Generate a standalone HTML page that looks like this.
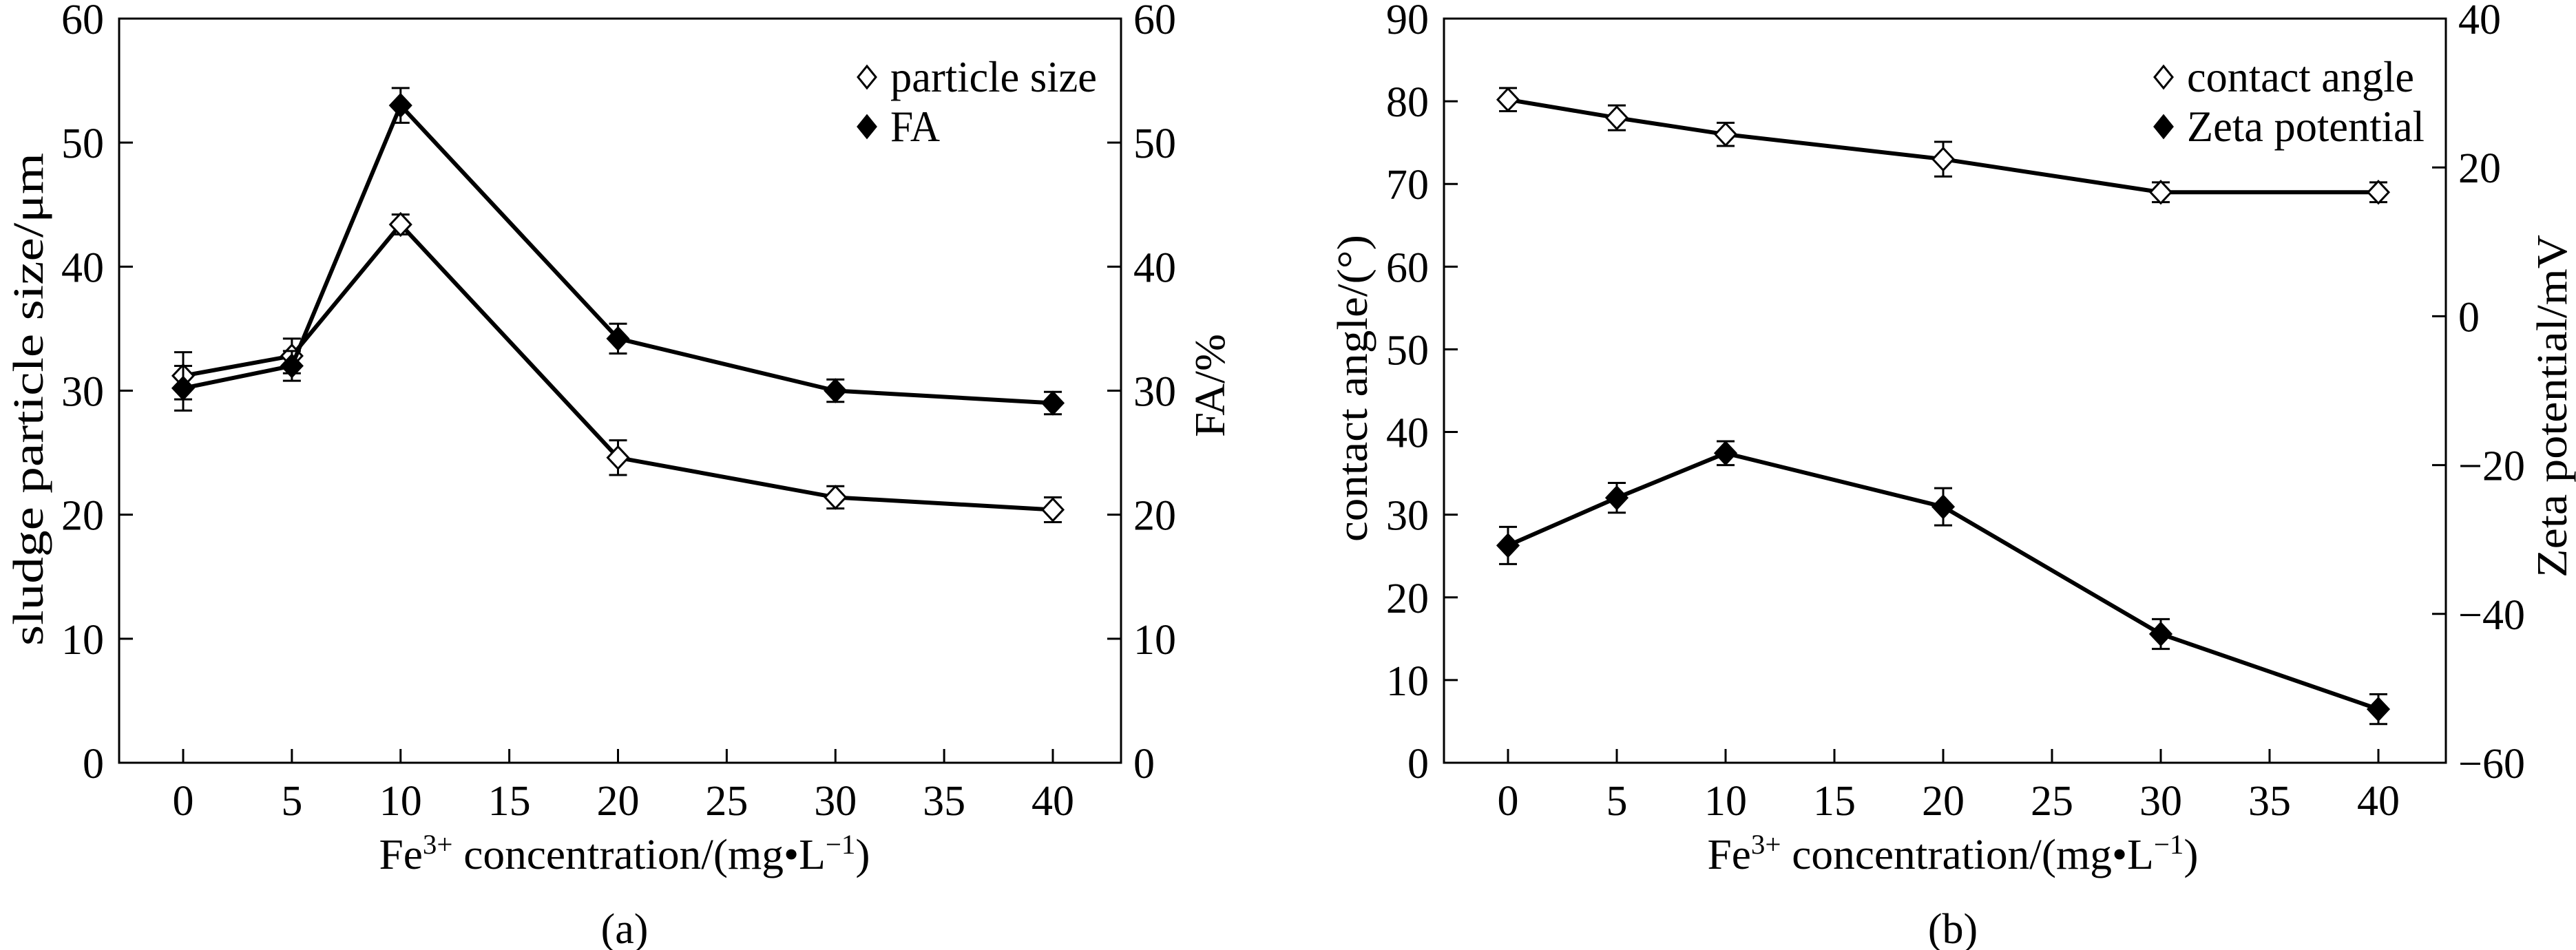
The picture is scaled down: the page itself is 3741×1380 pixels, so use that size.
<!DOCTYPE html>
<html><head><meta charset="utf-8"><style>
html,body{margin:0;padding:0;background:#fff;}
svg{display:block;font-family:"Liberation Serif",serif;}
</style></head><body>
<svg id="fig" width="3741" height="1380" viewBox="0 0 3741 1380"></svg>
<script>
const xCats = [0, 5, 10, 20, 30, 40];
const xTicks = [0, 5, 10, 15, 20, 25, 30, 35, 40];
const particleSize = [31.2, 32.8, 43.4, 24.6, 21.4, 20.4];
const particleErr = [1.9, 1.4, 0.8, 1.4, 0.9, 1.0];
const faValues = [30.2, 32.0, 53.0, 34.2, 30.0, 29.0];
const faErr = [1.8, 1.2, 1.4, 1.2, 0.9, 0.9];
const leftTicksA = [0, 10, 20, 30, 40, 50, 60];
const rightTicksA = [0, 10, 20, 30, 40, 50, 60];
const contactAngle = [80.2, 78.0, 76.0, 73.0, 69.0, 69.0];
const contactErr = [1.4, 1.5, 1.4, 2.1, 1.2, 1.2];
const zetaValues = [-30.8, -24.4, -18.4, -25.6, -42.7, -52.8];
const zetaErr = [2.5, 2.0, 1.6, 2.5, 2.0, 2.0];
const leftTicksB = [0, 10, 20, 30, 40, 50, 60, 70, 80, 90];
const rightTicksB = [-60, -40, -20, 0, 20, 40];

const NS = "http://www.w3.org/2000/svg";
const svg = document.getElementById('fig');
function mk(tag, attrs, parent, text) {
  const e = document.createElementNS(NS, tag);
  for (const k in attrs) e.setAttribute(k, attrs[k]);
  if (text !== undefined) e.textContent = text;
  (parent || svg).appendChild(e);
  return e;
}
const TOP = 27, BOT = 1108;
const FS = 62;

function panel(cfg) {
  const g = mk('g', {});
  
  
  const xs = v => cfg.x0 + (v - 0) * (cfg.x40 - cfg.x0) / 40;
  const yl = v => BOT - (v - cfg.lmin) * (BOT - TOP) / (cfg.lmax - cfg.lmin);
  const yr = v => BOT - (v - cfg.rmin) * (BOT - TOP) / (cfg.rmax - cfg.rmin);
  const frame = mk('rect', {x: cfg.L, y: TOP, width: cfg.R - cfg.L, height: BOT - TOP, fill: 'none', stroke: '#000', 'stroke-width': 3}, g);
  
  
  xTicks.forEach(t => {
    const x = xs(t);
    mk('line', {x1: x, y1: BOT, x2: x, y2: BOT - 20, stroke: '#000', 'stroke-width': 3}, g);
    const tl = mk('text', {x: x, y: BOT + 76, 'font-size': FS, 'text-anchor': 'middle'}, g, String(t));
    
    
  });
  cfg.lt.forEach(t => {
    const y = yl(t);
    mk('line', {x1: cfg.L, y1: y, x2: cfg.L + 20, y2: y, stroke: '#000', 'stroke-width': 3}, g);
    const tl = mk('text', {x: cfg.L - 22, y: y + 22, 'font-size': FS, 'text-anchor': 'end'}, g, String(t));
    
    
  });
  cfg.rt.forEach(t => {
    const y = yr(t);
    mk('line', {x1: cfg.R, y1: y, x2: cfg.R - 20, y2: y, stroke: '#000', 'stroke-width': 3}, g);
    const tl = mk('text', {x: cfg.R + 18, y: y + 22, 'font-size': FS, 'text-anchor': 'start'}, g, String(t).replace('-', '\u2212'));
    
    
  });
  function series(vals, errs, ys, filled, nm) {
    const pts = xCats.map((c, i) => xs(c) + ',' + ys(vals[i])).join(' ');
    const pl = mk('polyline', {points: pts, fill: 'none', stroke: '#000', 'stroke-width': 6, 'stroke-linejoin': 'round'}, g);
    
    
    xCats.forEach((c, i) => {
      const x = xs(c), y = ys(vals[i]);
      const y1 = ys(vals[i] + errs[i]), y2 = ys(vals[i] - errs[i]);
      const eb = mk('path', {d: `M${x},${y1}V${y2}M${x-13},${y1}H${x+13}M${x-13},${y2}H${x+13}`, stroke: '#000', 'stroke-width': 3, fill: 'none'}, g);
      
      
      const m = mk('polygon', {points: `${x},${y-16} ${x+15},${y} ${x},${y+16} ${x-15},${y}`, fill: filled ? '#000' : '#fff', stroke: '#000', 'stroke-width': 3}, g);
      
      
    });
  }
  series(cfg.s1, cfg.e1, yl, false, cfg.n1);
  series(cfg.s2, cfg.e2, cfg.s2axis === 'r' ? yr : yl, true, cfg.n2);
  [[cfg.leg1, false, 112, cfg.l1len], [cfg.leg2, true, 184, cfg.l2len]].forEach(([lbl, f, y, len]) => {
    const x = cfg.legX;
    const m = mk('polygon', {points: `${x},${y-16} ${x+13},${y} ${x},${y+16} ${x-13},${y}`, fill: f ? '#000' : '#fff', stroke: '#000', 'stroke-width': 3}, g);
    
    
    const t = mk('text', {x: x + 34, y: y + 21, 'font-size': 64, textLength: len, lengthAdjust: 'spacingAndGlyphs'}, g, lbl);
    
    
  });
  const cx = cfg.xtC;
  const xt = mk('text', {x: cx, y: 1262, 'font-size': 62, 'text-anchor': 'middle', textLength: 713, lengthAdjust: 'spacingAndGlyphs'}, g);
  
  
  mk('tspan', {}, xt, 'Fe');
  mk('tspan', {dy: -22, 'font-size': 40}, xt, '3+');
  mk('tspan', {dy: 22}, xt, ' concentration/(mg\u2022L');
  mk('tspan', {dy: -22, 'font-size': 40}, xt, '\u22121');
  mk('tspan', {dy: 22}, xt, ')');
  const lt = mk('text', {x: 0, y: 0, 'font-size': 62, 'text-anchor': 'middle', textLength: cfg.ltLen, lengthAdjust: 'spacingAndGlyphs', transform: `translate(${cfg.ltX},${cfg.ltY}) rotate(-90)`}, g, cfg.ltitle);
  
  
  const rt = mk('text', {x: 0, y: 0, 'font-size': 62, 'text-anchor': 'middle', textLength: cfg.rtLen, lengthAdjust: 'spacingAndGlyphs', transform: `translate(${cfg.rtX},${cfg.rtY}) rotate(-90)`}, g, cfg.rtitle);
  
  
  const cap = mk('text', {x: cx, y: 1370, 'font-size': 62, 'text-anchor': 'middle'}, g, cfg.cap);
  
  
}

panel({name: 'panel-a', L: 173, R: 1628, x0: 266, x40: 1529, lmin: 0, lmax: 60, rmin: 0, rmax: 60,
  lt: leftTicksA, rt: rightTicksA, s1: particleSize, e1: particleErr, s2: faValues, e2: faErr, s2axis: 'r',
  n1: 'particle-size', n2: 'fa', leg1: 'particle size', leg2: 'FA', legX: 1259, l1len: 300, l2len: 72,
  ltitle: 'sludge particle size/\u03bcm', ltX: 62, ltY: 580, ltLen: 716, xtC: 907,
  rtitle: 'FA/%', rtX: 1778, rtY: 560, rtLen: 150, cap: '(a)'});
panel({name: 'panel-b', L: 2097, R: 3552, x0: 2190, x40: 3454, lmin: 0, lmax: 90, rmin: -60, rmax: 40,
  lt: leftTicksB, rt: rightTicksB, s1: contactAngle, e1: contactErr, s2: zetaValues, e2: zetaErr, s2axis: 'r',
  n1: 'contact-angle', n2: 'zeta-potential', leg1: 'contact angle', leg2: 'Zeta potential', legX: 3142, l1len: 330, l2len: 345,
  ltitle: 'contact angle/(\u00b0)', ltX: 1985, ltY: 564, ltLen: 446, xtC: 2836,
  rtitle: 'Zeta potential/mV', rtX: 3727, rtY: 590, rtLen: 498, cap: '(b)'});
</script>
</body></html>
